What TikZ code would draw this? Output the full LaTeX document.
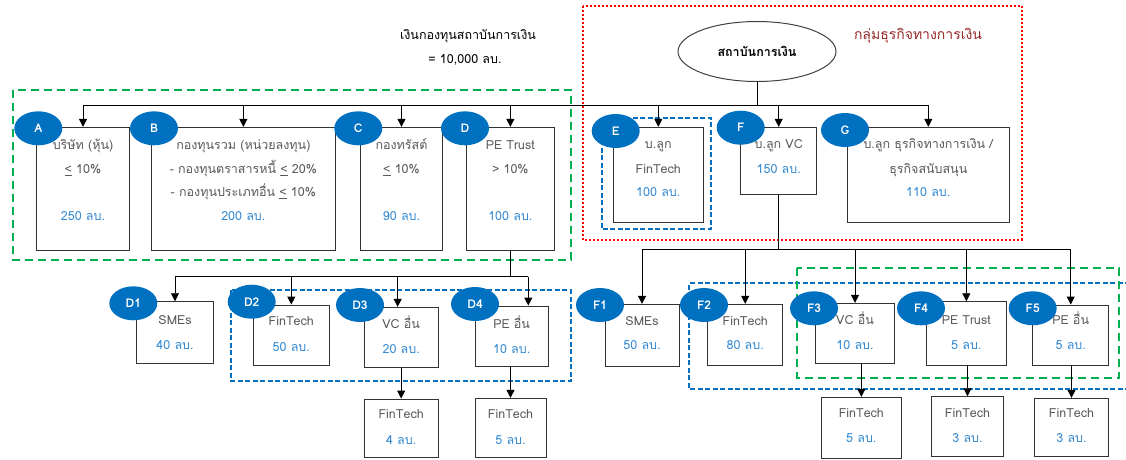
\documentclass[tikz,border=0pt]{standalone}
\usepackage{fontspec}
\setmainfont[Script=Thai]{Loma}
\usetikzlibrary{arrows.meta,shapes.geometric,calc}
\definecolor{circblue}{HTML}{0070C0}
\definecolor{amtblue}{RGB}{52,138,210}
\definecolor{lblgray}{HTML}{595959}
\definecolor{grpgreen}{HTML}{00B050}
\definecolor{grpred}{HTML}{FF0000}
\definecolor{titlered}{RGB}{150,40,40}
\newcommand\lequ{\underline{<}}
\begin{document}
\begin{tikzpicture}[x=1pt,y=-1pt,
  box/.style={draw=black!80, line width=0.9pt, fill=white, inner sep=0pt},
  tag/.style={ellipse, fill=circblue, minimum width=48pt, minimum height=34pt, inner sep=0pt,
    text=white, font=\fontsize{12}{14}\selectfont\bfseries},
  lbl/.style={text=lblgray, anchor=mid, inner sep=0pt, font=\fontsize{12.5}{15}\selectfont},
  amt/.style={lbl, text=amtblue},
  link/.style={draw=black, line width=0.9pt},
  arr/.style={link, -{Triangle[width=8pt,length=8pt]}},
  greenbox/.style={draw=grpgreen, line width=1.8pt, dash pattern=on 8pt off 5pt},
  bluebox/.style={draw=circblue, line width=1.8pt, dash pattern=on 5pt off 2.5pt},
  redbox/.style={draw=grpred, line width=2pt, dash pattern=on 2pt off 2pt},
]
\useasboundingbox (0,0) rectangle (1126,459);

% group frames
\draw[redbox] (583.3,6) rectangle (1021.7,240);
\draw[greenbox] (12.7,90) rectangle (570.7,260);
\draw[bluebox] (601.7,117.7) rectangle (710.7,229.3);
\draw[bluebox] (231,290) rectangle (570.7,381);
\draw[bluebox] (1130,283.3) -- (689.3,283.3) -- (689.3,389) -- (1130,389);
\draw[greenbox] (797.3,268.3) rectangle (1119.3,377.7);

% headings
\node[anchor=mid, inner sep=0pt, font=\fontsize{12.5}{15}\selectfont] (title1) at (468,37) {เงินกองทุนสถาบันการเงิน};
\node[anchor=mid, inner sep=0pt, font=\fontsize{12.5}{15}\selectfont] (title2) at (465,61) {= 10,000 ลบ.};
\node[anchor=mid, inner sep=0pt, text=titlered, font=\fontsize{14}{16}\selectfont] (grp) at (918,37) {กลุ่มธุรกิจทางการเงิน};

% root
\node[draw=black!75, line width=1pt, ellipse, minimum width=158pt, minimum height=60pt, inner sep=0pt,
  font=\fontsize{12.5}{15}\selectfont\bfseries] (inst) at (757,51.5) {สถาบันการเงิน};

% first level boxes
\node[box, minimum width=92.6pt, minimum height=122.7pt] (A) at (83,188.65) {};
\node[box, minimum width=183.3pt, minimum height=122.7pt] (B) at (243.35,188.65) {};
\node[box, minimum width=81.6pt, minimum height=122.7pt] (C) at (401.5,188.65) {};
\node[box, minimum width=87.3pt, minimum height=122.7pt] (D) at (510.35,188.65) {};
\node[box, minimum width=90pt, minimum height=95pt] (E) at (658.3,174.8) {};
\node[box, minimum width=76pt, minimum height=67pt] (F) at (778.7,160.8) {};
\node[box, minimum width=162pt, minimum height=95pt] (G) at (928.3,174.8) {};

% second level boxes
\node[box, minimum width=76.6pt, minimum height=61.6pt] (D1) at (175,332.5) {};
\node[box, minimum width=76pt, minimum height=60pt] (D2) at (291.3,335) {};
\node[box, minimum width=74.3pt, minimum height=60pt] (D3) at (401.15,337.3) {};
\node[box, minimum width=73.3pt, minimum height=60pt] (D4) at (511.65,336) {};
\node[box, minimum width=74.3pt, minimum height=58.3pt] (D3c) at (401.15,428.15) {};
\node[box, minimum width=71pt, minimum height=59pt] (D4c) at (510.5,427.8) {};
\node[box, minimum width=74pt, minimum height=61.7pt] (F1) at (642,335.15) {};
\node[box, minimum width=75pt, minimum height=61pt] (F2) at (745.2,334.8) {};
\node[box, minimum width=78.6pt, minimum height=60pt] (F3) at (855,333.3) {};
\node[box, minimum width=80.7pt, minimum height=63.3pt] (F4) at (966.35,333.35) {};
\node[box, minimum width=76pt, minimum height=60pt] (F5) at (1070.7,335) {};
\node[box, minimum width=79.3pt, minimum height=61pt] (F3c) at (861.35,427.8) {};
\node[box, minimum width=71.6pt, minimum height=59.3pt] (F4c) at (967.5,426.35) {};
\node[box, minimum width=74.4pt, minimum height=58.4pt] (F5c) at (1071.5,427.5) {};

% connectors from the root
\coordinate (topbus) at (0,105);
\draw[link] (inst.south) -- (inst.south |- topbus);
\draw[link] (A.north |- topbus) -- (G.north |- topbus);
\foreach \n in {A,B,C,D,E,F,G} \draw[arr] (\n.north |- topbus) -- (\n.north);

% connectors from D
\coordinate (dbus) at (0,276.7);
\coordinate (d4in) at ([xshift=16.65pt]D4.north);
\coordinate (d3in) at ([xshift=-3.5pt]D3.north);
\draw[link] (D.south) -- (D.south |- dbus);
\draw[link] (D1.north |- dbus) -- (d4in |- dbus);
\draw[arr] (D1.north |- dbus) -- (D1.north);
\draw[arr] (D2.north |- dbus) -- (D2.north);
\draw[arr] (d3in |- dbus) -- (d3in);
\draw[arr] (d4in |- dbus) -- (d4in);
\draw[arr] (D3c.north |- D3.south) -- (D3c.north);
\draw[arr] (D4c.north |- D4.south) -- (D4c.north);

% connectors from F
\coordinate (fbus) at (0,249);
\draw[link] (F.south) -- (F.south |- fbus);
\draw[link] (F1.north |- fbus) -- (F5.north |- fbus);
\foreach \n in {F1,F2,F3,F4,F5} \draw[arr] (\n.north |- fbus) -- (\n.north);
\draw[arr] (F3c.north |- F3.south) -- (F3c.north);
\draw[arr] (F4c.north |- F4.south) -- (F4c.north);
\draw[arr] (F5c.north |- F5.south) -- (F5c.north);

% box texts
\node[lbl] (A1) at (83,146.7) {บริษัท (หุ้น)};
\node[lbl] (A2) at (83,171) {\lequ{} 10\%};
\node[amt] (A3) at (83,218.3) {250 ลบ.};
\node[lbl] (B1) at (243.35,146.7) {กองทุนรวม (หน่วยลงทุน)};
\node[lbl] (B2) at (243.35,171) {- กองทุนตราสารหนี้ \lequ{} 20\%};
\node[lbl] (B3) at (243.35,194.3) {- กองทุนประเภทอื่น \lequ{} 10\%};
\node[amt] (B4) at (243.35,218.3) {200 ลบ.};
\node[lbl] (C1) at (401.5,146.7) {กองทรัสต์};
\node[lbl] (C2) at (401.5,171) {\lequ{} 10\%};
\node[amt] (C3) at (401.5,218.3) {90 ลบ.};
\node[lbl] (Dl1) at (510.35,146.7) {PE Trust};
\node[lbl] (Dl2) at (510.35,171) {> 10\%};
\node[amt] (Dl3) at (510.35,218.3) {100 ลบ.};
\node[lbl] (E1) at (658.3,146) {บ.ลูก};
\node[lbl] (E2) at (658.3,170.7) {FinTech};
\node[amt] (E3) at (658.3,194.3) {100 ลบ.};
\node[lbl] (Fl1) at (778.7,146) {บ.ลูก VC};
\node[amt] (Fl2) at (778.7,170.7) {150 ลบ.};
\node[lbl] (G1) at (928.3,146) {บ.ลูก ธุรกิจทางการเงิน /};
\node[lbl] (G2) at (928.3,171) {ธุรกิจสนับสนุน};
\node[amt] (G3) at (928.3,194.3) {110 ลบ.};

\node[lbl] (D1a) at (175,321.7) {SMEs};
\node[amt] (D1b) at (175,347.3) {40 ลบ.};
\node[lbl] (D2a) at (291.3,323.3) {FinTech};
\node[amt] (D2b) at (291.3,349) {50 ลบ.};
\node[lbl] (D3a) at (401.15,326) {VC อื่น};
\node[amt] (D3b) at (401.15,350.7) {20 ลบ.};
\node[lbl] (D4a) at (511.65,325.5) {PE อื่น};
\node[amt] (D4b) at (511.65,350.5) {10 ลบ.};
\node[lbl] (D3ca) at (401.15,415.7) {FinTech};
\node[amt] (D3cb) at (401.15,441.7) {4 ลบ.};
\node[lbl] (D4ca) at (510.5,415.7) {FinTech};
\node[amt] (D4cb) at (510.5,441.7) {5 ลบ.};

\node[lbl] (F1a) at (642,322.7) {SMEs};
\node[amt] (F1b) at (642,347.3) {50 ลบ.};
\node[lbl] (F2a) at (745.2,322.7) {FinTech};
\node[amt] (F2b) at (745.2,347.3) {80 ลบ.};
\node[lbl] (F3a) at (855,321.7) {VC อื่น};
\node[amt] (F3b) at (855,347.3) {10 ลบ.};
\node[lbl] (F4a) at (966.35,321.7) {PE Trust};
\node[amt] (F4b) at (966.35,347.3) {5 ลบ.};
\node[lbl] (F5a) at (1070.7,321.7) {PE อื่น};
\node[amt] (F5b) at (1070.7,347.3) {5 ลบ.};
\node[lbl] (F3ca) at (861.35,415) {FinTech};
\node[amt] (F3cb) at (861.35,440) {5 ลบ.};
\node[lbl] (F4ca) at (967.5,415) {FinTech};
\node[amt] (F4cb) at (967.5,440) {3 ลบ.};
\node[lbl] (F5ca) at (1071.5,415) {FinTech};
\node[amt] (F5cb) at (1071.5,440) {3 ลบ.};

% letter tags
\node[tag] (tA) at (38.3,128.3) {A};
\node[tag] (tB) at (154,128.3) {B};
\node[tag] (tC) at (358.3,128.3) {C};
\node[tag] (tD) at (465,128.3) {D};
\node[tag] (tE) at (615.7,131) {E};
\node[tag] (tF) at (740.7,127.7) {F};
\node[tag] (tG) at (845,130) {G};
\node[tag] (tD1) at (133.3,303.3) {D1};
\node[tag] (tD2) at (251.7,301.7) {D2};
\node[tag] (tD3) at (360,305) {D3};
\node[tag] (tD4) at (475,304) {D4};
\node[tag] (tF1) at (600,305) {F1};
\node[tag] (tF2) at (704,305) {F2};
\node[tag] (tF3) at (814,308.3) {F3};
\node[tag] (tF4) at (921,308.3) {F4};
\node[tag] (tF5) at (1032.7,308.3) {F5};
\end{tikzpicture}
\end{document}
